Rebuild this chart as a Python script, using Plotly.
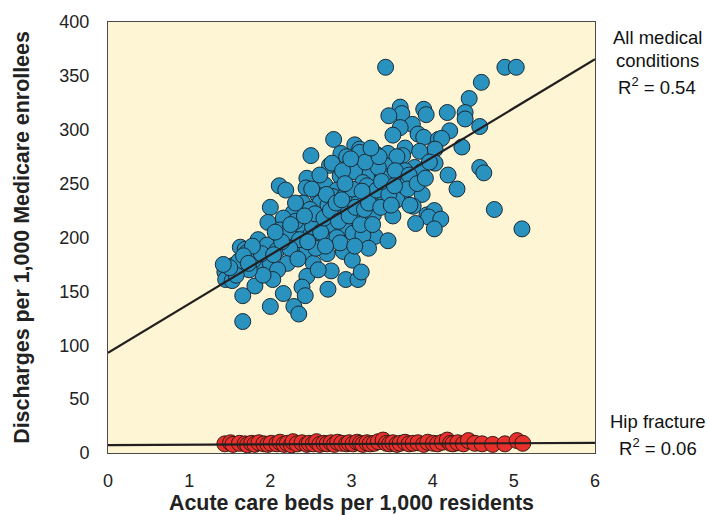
import plotly.graph_objects as go

# ---------------- data ----------------
all_x = [4.89, 5.03, 4.60, 4.45, 4.40, 4.40, 4.18, 3.89, 3.92, 3.60, 3.62, 3.75, 3.60, 4.58, 4.21,
         3.82, 3.89, 4.07, 4.11, 4.03, 4.36, 3.66, 3.63, 4.03, 3.78, 3.66, 3.86, 4.58, 4.63, 4.19,
         3.63, 4.30, 3.87, 3.62, 3.76, 3.93, 4.02, 3.95, 4.10, 3.79, 4.02, 4.76, 5.10,
         3.42, 3.46, 3.51, 2.78, 3.04, 3.10, 2.87, 2.94, 2.73, 3.07, 3.35, 3.51, 2.64, 2.86,
         2.50, 2.76, 3.10, 3.31, 3.45, 3.56, 2.98, 3.23, 3.41, 3.04, 3.23, 3.38, 2.45, 2.67,
         2.82, 2.94, 3.14, 3.41, 3.57, 2.11, 2.19, 2.44, 2.59, 2.77, 2.61, 2.71, 2.94, 3.07,
         3.27, 3.41, 3.56, 2.40, 2.00, 2.28, 2.82, 2.96, 3.27, 3.51, 2.49, 1.97, 2.16, 2.37,
         2.57, 2.76, 2.94, 3.10, 3.29, 3.45, 2.12, 2.40, 2.27, 2.49, 2.65, 2.82, 3.02, 3.14,
         1.85, 1.96, 1.63, 1.69, 1.71, 2.08, 2.21, 2.37, 2.45, 2.53, 2.70, 2.90, 3.01, 2.75,
         1.54, 1.90, 2.00, 2.09, 1.79, 1.44, 1.45, 1.53, 1.81, 2.03, 1.91, 2.45, 2.93, 3.08,
         3.12, 2.16, 2.39, 2.43, 2.71, 1.66, 2.00, 2.29, 2.35, 1.66,
         2.22, 2.31, 2.36, 2.52, 2.55, 2.62, 2.66, 2.69, 2.74, 2.81, 2.84, 2.91, 2.97, 3.01,
         3.05, 3.11, 3.16, 3.19, 3.21, 3.26, 3.31, 3.36, 3.39, 3.46, 3.49, 3.54, 3.33, 3.17,
         2.89, 2.61, 2.56, 2.46, 2.31, 2.24, 2.14, 2.06, 1.89, 1.78, 1.74, 1.61, 1.58, 2.34,
         2.59, 2.86, 3.21, 3.04, 2.92, 2.51, 3.34, 3.24, 2.99, 3.71, 3.69, 3.81, 3.84, 3.96,
         3.72, 3.91, 2.25, 2.42, 1.67, 1.73, 1.50, 1.42, 2.04, 2.68, 2.88, 3.13, 3.37, 3.53]
all_y = [358, 358, 344, 329, 316, 310, 316, 319, 314, 321, 315, 305, 302, 303, 299,
         296, 293, 291, 292, 282, 284, 283, 276, 269, 265, 262, 261, 265, 260, 258,
         249, 245, 240, 238, 229, 221, 225, 219, 217, 213, 208, 226, 208,
         358, 313, 295, 291, 286, 282, 278, 275, 267, 264, 263, 255, 247, 257,
         276, 269, 279, 277, 278, 275, 267, 269, 267, 261, 260, 258, 255, 249,
         244, 246, 251, 249, 244, 248, 244, 246, 239, 238, 232, 230, 232, 233,
         238, 235, 235, 232, 228, 223, 223, 224, 221, 220, 226, 214, 218, 214,
         213, 212, 207, 216, 201, 197, 207, 209, 200, 202, 200, 200, 204, 202,
         198, 193, 191, 189, 186, 188, 176, 191, 187, 176, 185, 187, 179, 169,
         174, 173, 176, 170, 179, 168, 161, 160, 155, 161, 165, 164, 161, 161,
         168, 148, 154, 146, 152, 146, 136, 136, 129, 122,
         205, 215, 198, 210, 222, 205, 218, 240, 225, 232, 215, 238, 220, 245,
         228, 212, 226, 248, 232, 212, 244, 228, 255, 240, 230, 262, 265, 270,
         262, 258, 190, 196, 232, 190, 196, 205, 185, 192, 170, 178, 165, 180,
         170, 195, 190, 192, 250, 245, 275, 283, 273, 258, 245, 250, 280, 270,
         230, 255, 212, 220, 183, 176, 172, 175, 184, 192, 235, 243, 252, 248]

hip_x = [1.44, 1.51, 1.54, 1.62, 1.69, 1.72, 1.77, 1.81, 1.86, 1.92, 1.97, 2.01, 2.08, 2.12,
         2.17, 2.21, 2.26, 2.28, 2.33, 2.39, 2.45, 2.48, 2.53, 2.57, 2.61, 2.66, 2.70, 2.75,
         2.79, 2.83, 2.88, 2.94, 2.97, 3.02, 3.07, 3.11, 3.14, 3.19, 3.23, 3.28, 3.33, 3.39,
         3.43, 3.47, 3.51, 3.56, 3.60, 3.66, 3.71, 3.76, 3.82, 3.89, 3.94, 4.01, 4.06, 4.12,
         4.18, 4.22, 4.25, 4.31, 4.38, 4.44, 4.52, 4.61, 4.74, 4.89, 5.04, 5.11]
hip_y = [8.5, 9.5, 8.0, 9.0, 8.5, 7.5, 9.0, 8.0, 9.5, 8.5, 8.0, 9.0, 8.5, 10.0,
         8.0, 9.0, 7.5, 10.5, 8.5, 9.5, 8.0, 9.0, 8.5, 10.5, 8.0, 9.0, 8.5, 9.5,
         8.0, 10.0, 9.0, 8.5, 9.5, 8.5, 10.0, 9.0, 8.0, 9.5, 8.5, 9.0, 10.5, 12.0,
         9.0, 8.5, 9.5, 8.0, 9.0, 10.0, 8.5, 9.0, 9.5, 8.0, 10.0, 9.0, 8.5, 10.0,
         12.0, 9.0, 8.5, 9.5, 8.5, 11.5, 9.0, 8.5, 8.0, 8.5, 11.5, 9.0]

fit_x = [0, 6]
all_fit_y = [93, 365.5]
hip_fit_y = [7.4, 9.4]

x_ticks = [0, 1, 2, 3, 4, 5, 6]
y_ticks = [0, 50, 100, 150, 200, 250, 300, 350, 400]

x_title = "Acute care beds per 1,000 residents"
y_title = "Discharges per 1,000 Medicare enrollees"
label_all = ["All medical", "conditions", "R<sup>2</sup> = 0.54"]
label_hip = ["Hip fracture", "R<sup>2</sup> = 0.06"]

# ---------------- figure ----------------
FONT = "Liberation Sans, Arial, sans-serif"
fig = go.Figure()

fig.add_trace(go.Scatter(
    x=all_x, y=all_y, mode="markers",
    marker=dict(size=16, color="#2a92bf", line=dict(color="#1b2a35", width=1)),
    showlegend=False, hoverinfo="skip"))
fig.add_trace(go.Scatter(
    x=hip_x, y=hip_y, mode="markers",
    marker=dict(size=16, color="#e8302a", line=dict(color="#3a1a18", width=1)),
    showlegend=False, hoverinfo="skip"))
fig.add_trace(go.Scatter(
    x=fit_x, y=all_fit_y, mode="lines",
    line=dict(color="#231f20", width=2.2), showlegend=False, hoverinfo="skip"))
fig.add_trace(go.Scatter(
    x=fit_x, y=hip_fit_y, mode="lines",
    line=dict(color="#231f20", width=2.2), showlegend=False, hoverinfo="skip"))

ann = []
for txt, yv in zip(label_all, [386, 364, 341]):
    ann.append(dict(x=1.128, xref="paper", y=yv, yref="y", text=txt, showarrow=False,
                    xanchor="center", yanchor="middle",
                    font=dict(family=FONT, size=18.5, color="#111")))
for txt, yv in zip(label_hip, [29.5, 5.5]):
    ann.append(dict(x=1.13, xref="paper", y=yv, yref="y", text=txt, showarrow=False,
                    xanchor="center", yanchor="middle",
                    font=dict(family=FONT, size=18.5, color="#111")))

fig.update_layout(
    width=709, height=515,
    margin=dict(l=108, r=114, t=22, b=62),
    paper_bgcolor="white", plot_bgcolor="#fdf5d3",
    font=dict(family=FONT, size=18, color="#222"),
    annotations=ann,
)
fig.update_xaxes(
    range=[0, 6], tickvals=x_ticks, showgrid=False, zeroline=False,
    showline=True, mirror=True, linecolor="#4a4a4a", linewidth=1, ticks="",
    ticklabelstandoff=11, automargin=False,
    tickfont=dict(size=18, color="#222"),
    title=dict(text="<b>" + x_title + "</b>", font=dict(size=21.4, color="#222"), standoff=5),
)
fig.update_yaxes(
    range=[0, 400], tickvals=y_ticks, showgrid=False, zeroline=False,
    showline=True, mirror=True, linecolor="#4a4a4a", linewidth=1, ticks="",
    ticklabelstandoff=14, automargin=False,
    tickfont=dict(size=18, color="#222"),
    title=dict(text="<b>" + y_title + "</b>", font=dict(size=21.4, color="#222"), standoff=23),
)

fig.write_html("out.html")
